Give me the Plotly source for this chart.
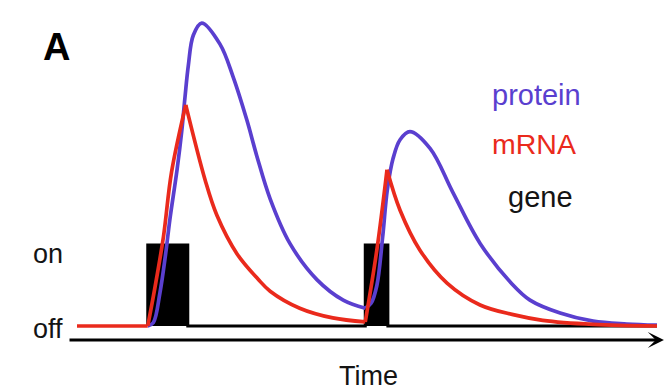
import plotly.graph_objects as go

# Gene state: square on/off pulses (0 = off, 1 = on)
gene_t = [12.2, 12.2, 19.1, 19.1, 49.7, 49.7, 53.6, 53.6, 100.0]
gene_level = [0, 1, 1, 0, 0, 1, 1, 0, 0]

# mRNA level over time
mrna_t = [0.0, 12.2, 13.45, 14.9, 16.3, 18.75, 22.1, 24.1, 27.6, 31.2, 33.3, 38.4,
          44.1, 49.7, 51.7, 53.45, 55.7, 59.1, 63.8, 69.5, 75.2, 80.3, 89.0, 100.0]
mrna = [0, 0, 0.48, 1.10, 1.90, 2.73, 1.80, 1.37, 0.89, 0.58, 0.43, 0.22,
        0.10, 0.05, 0.94, 1.93, 1.43, 0.94, 0.53, 0.26, 0.14, 0.07, 0.02, 0]
# indices where the mRNA curve has a sharp corner (pulse start / end)
mrna_kinks = [0, 1, 5, 13, 15, 23]

# protein level over time
protein_t = [12.2, 13.15, 14.3, 15.3, 16.0, 17.25, 18.05, 18.6, 19.2, 20.05, 21.5,
             24.65, 26.9, 29.3, 31.0, 33.3, 36.7, 41.4, 45.9, 49.7, 50.7, 51.7,
             52.7, 53.5, 54.5, 55.7, 57.4, 60.9, 64.8, 69.5, 75.0, 78.1, 83.3,
             89.0, 94.8, 100.0]
protein = [0, 0.04, 0.41, 0.90, 1.31, 1.93, 2.40, 2.81, 3.22, 3.59, 3.74,
           3.48, 3.08, 2.54, 2.10, 1.57, 1.02, 0.57, 0.32, 0.22, 0.28, 0.50,
           1.10, 1.68, 2.07, 2.30, 2.40, 2.19, 1.65, 1.02, 0.52, 0.32, 0.16,
           0.06, 0.025, 0.01]
protein_kinks = [0, 19, 35]

# level labels on the left and the time axis span
state_labels = ["on", "off"]
state_label_y = [0.89, -0.04]
axis_start, axis_end, axis_level = -1.55, 101.2, -0.173

BLUE = "#5a3fcf"
RED = "#ea2a1c"
INK = "#141414"
FONT = "Arial, Liberation Sans, sans-serif"

fig = go.Figure()

# gene pulses as filled black blocks
fig.add_trace(go.Scatter(
    x=gene_t, y=gene_level, mode="lines", fill="tozeroy",
    fillcolor="black", line=dict(color="black", width=3),
    hoverinfo="skip"))


def add_curve(t, v, kinks, color):
    # smooth each piece separately so pulse corners stay sharp
    for a, b in zip(kinks[:-1], kinks[1:]):
        fig.add_trace(go.Scatter(
            x=t[a:b + 1], y=v[a:b + 1], mode="lines",
            line=dict(color=color, width=3.7, shape="spline", smoothing=1.0),
            hoverinfo="skip"))


add_curve(protein_t, protein, protein_kinks, BLUE)
add_curve(mrna_t, mrna, mrna_kinks, RED)

annotations = [
    # time axis arrow
    dict(x=axis_end, y=axis_level, ax=axis_start, ay=axis_level,
         xref="x", yref="y", axref="x", ayref="y", text="",
         showarrow=True, arrowhead=3, arrowsize=0.9, arrowwidth=3,
         arrowcolor="black", standoff=0),
    dict(x=50.2, y=-0.615, text="Time", showarrow=False,
         font=dict(family=FONT, size=27, color=INK)),
    dict(x=-3.6, y=3.45, text="<b>A</b>", showarrow=False,
         font=dict(family=FONT, size=38, color="black")),
    dict(x=71.2, y=2.85, text="protein", showarrow=False, xanchor="left",
         font=dict(family=FONT, size=29, color=BLUE)),
    dict(x=71.2, y=2.25, text="mRNA", showarrow=False, xanchor="left",
         font=dict(family=FONT, size=28.5, color=RED)),
    dict(x=73.9, y=1.59, text="gene", showarrow=False, xanchor="left",
         font=dict(family=FONT, size=29, color=INK)),
]
for lab, ly in zip(state_labels, state_label_y):
    annotations.append(dict(x=-5.0, y=ly, text=lab, showarrow=False,
                            font=dict(family=FONT, size=27, color=INK)))

fig.update_layout(
    width=672, height=390,
    margin=dict(l=0, r=0, t=0, b=0),
    paper_bgcolor="white", plot_bgcolor="white",
    showlegend=False,
    xaxis=dict(visible=False, range=[-13.276, 102.586], fixedrange=True),
    yaxis=dict(visible=False, range=[-0.790, 4.025], fixedrange=True),
    annotations=annotations,
)

fig.write_html("out.html")
